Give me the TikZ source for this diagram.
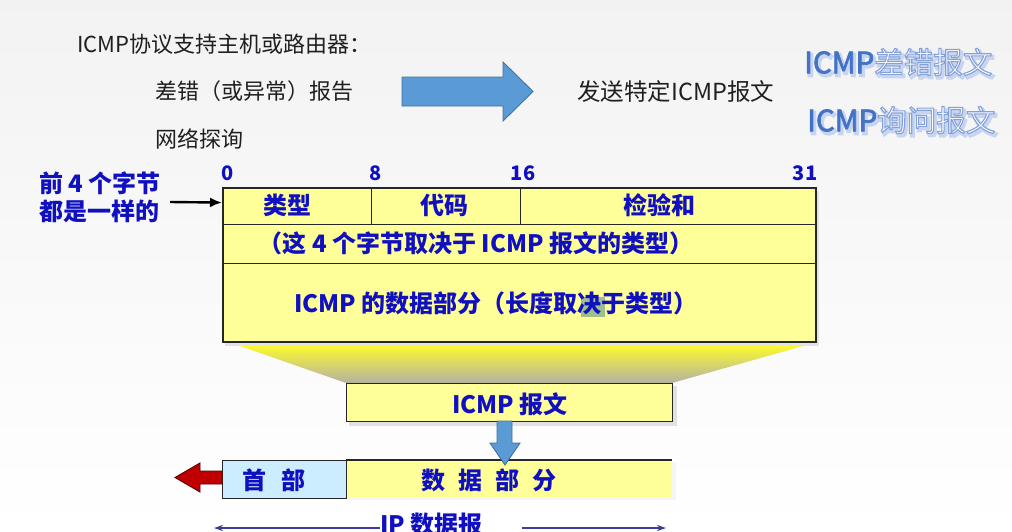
\documentclass[tikz,border=0pt]{standalone}
\usepackage{fontspec}
\setmainfont{Noto Sans CJK SC}
\usetikzlibrary{arrows.meta,calc}

\definecolor{boxyellow}{HTML}{FFFF99}
\definecolor{hdrblue}{HTML}{CCECFF}
\definecolor{labelblue}{HTML}{1010C0}
\definecolor{arrowblue}{HTML}{5B9BD5}
\definecolor{arrowedge}{HTML}{41719C}
\definecolor{arrowred}{HTML}{C00000}
\definecolor{redge}{HTML}{5A0000}
\definecolor{ipline}{HTML}{3C3C9C}
\definecolor{msgblue}{HTML}{4472C4}
\definecolor{shadowblue}{HTML}{C8D5F0}
\definecolor{shadowgray}{HTML}{E2E2E2}
\definecolor{funtop}{HTML}{FAF832}
\definecolor{funbot}{HTML}{B4B2A2}
\definecolor{hilite}{HTML}{9DC08B}

\tikzset{
  plain/.style={inner sep=0pt, anchor=west, text=black!88,
    font=\fontsize{22}{26}\selectfont},
  bluebold/.style={inner sep=0pt, text=labelblue,
    font=\fontsize{24}{28}\selectfont\bfseries},
  num/.style={inner sep=0pt, text=labelblue,
    font=\fontsize{20}{24}\selectfont\bfseries},
  field/.style={draw=black!85, line width=1.1pt, fill=boxyellow,
    inner sep=0pt, anchor=north west},
  gl/.style={inner sep=0pt, anchor=west,
    font=\fontsize{29.5}{33}\selectfont},
  blockarrow/.style={fill=arrowblue, draw=arrowedge, line width=0.9pt,
    line join=miter},
}

% glyphs filled with colour #1 and stroked with width #2 in RGB #3
\newcommand\stroked[4]{\textcolor{#1}{%
  \special{pdf:code 2 Tr #2 w #3 RG}#4\special{pdf:code 0 Tr}}}
\newcommand\kindtext[2]{%
  \stroked{msgblue}{0.7}{0.267 0.447 0.769}{#1}%
  \stroked{white}{1.1}{0.52 0.63 0.85}{#2}}
\newcommand\kindshadow[1]{\stroked{shadowblue}{3}{0.78 0.835 0.94}{#1}}

\begin{document}
\begin{tikzpicture}[x=1pt,y=-1pt]
\useasboundingbox (0,0) rectangle (1012,531);
\shade[top color=black!5, bottom color=white] (0,0) rectangle (1012,531);

% introduction
\node[plain] (intro) at (77,44) {ICMP协议支持主机或路由器：};
\node[plain] (err) at (155,91) {差错（或异常）报告};
\node[plain] (probe) at (155,139) {网络探询};
\node[plain, font=\fontsize{23.5}{27}\selectfont] (send) at (577,92) {发送特定ICMP报文};

% block arrow between the two columns
\filldraw[blockarrow] (402,77) -- (503,77) -- (503,62) -- (533,91.5)
  -- (503,121) -- (503,106) -- (402,106) -- cycle;

% message kinds, each with a soft drop shadow
\node[gl] (kind1s) at (806,64.5) {\kindshadow{ICMP差错报文}};
\node[gl] (kind1) at (804,62) {\kindtext{ICMP}{差错报文}};
\node[gl] (kind2s) at (809,122.5) {\kindshadow{ICMP询问报文}};
\node[gl] (kind2) at (807,120) {\kindtext{ICMP}{询问报文}};

% ICMP message format
\fill[shadowgray] (225,191) rectangle (819,346);
\node[field, minimum width=149, minimum height=37] (type) at (222,187) {};
\node[field, minimum width=149, minimum height=37] (code) at (371,187) {};
\node[field, minimum width=295, minimum height=37] (csum) at (520,187) {};
\node[field, minimum width=593, minimum height=39] (rowtwo) at (222,224) {};
\node[field, minimum width=593, minimum height=78] (rowthree) at (222,263) {};
\node[draw=black!85, line width=1.6pt, inner sep=0pt, anchor=north west,
  minimum width=593, minimum height=154] (frame) at (222,187) {};

\node[num] (b0) at (228,173.5) {0};
\node[num] (b8) at (375.5,173.5) {8};
\node[num] (b16) at (523,173.5) {16};
\node[num] (b31) at (805,173.5) {31};

\node[bluebold] (typel) at (287.5,205) {类型};
\node[bluebold] (codel) at (444.5,205) {代码};
\node[bluebold] (csuml) at (659.5,205) {检验和};
\node[bluebold] (rowtwol) at (476,243) {（这 4 个字节取决于 ICMP 报文的类型）};
\fill[hilite] (581,297) rectangle (605,317);
\node[bluebold] (rowthreel) at (496,303) {ICMP 的数据部分（长度取决于类型）};

\node[bluebold, anchor=west, align=left] (note) at (39,197) {前 4 个字节\\都是一样的};
\draw[-{Latex[length=12pt,width=10pt]}, line width=2.4pt, black]
  ($(note.east)+(9,5)$) -- ($(type.west)+(0,-3.5)$);

% funnel down to the message
\shade[top color=funtop, bottom color=funbot] (240,346) -- (803,346)
  -- (672,383) -- (346,383) -- cycle;

\fill[shadowgray] (349,386) rectangle (677,426);
\node[field, minimum width=326, minimum height=38] (msg) at (346,383) {};
\node[bluebold] (msgl) at (510,404) {ICMP 报文};

% IP datagram
\fill[white!96!black] (349,463) rectangle (676,500);
\node[fill=boxyellow, inner sep=0pt, anchor=north west,
  minimum width=326, minimum height=38] (data) at (346,460) {};
\draw[black!85, line width=1.1pt] (data.north west) -- (data.north east);
\node[field, fill=hdrblue, minimum width=124, minimum height=38] (hdr) at (222,460) {};
\node[bluebold] (hdrl) at (274,480) {首\hspace{0.6em}部};
\node[bluebold] (datal) at (489,480) {数\hspace{0.55em}据\hspace{0.55em}部\hspace{0.55em}分};

% message goes into the data part
\filldraw[blockarrow] (497,421) -- (512,421) -- (512,443) -- (520,443)
  -- (505,465) -- (490,443) -- (497,443) -- cycle;

% header goes out first
\filldraw[fill=arrowred, draw=redge, line width=0.9pt]
  (hdr.west |- 0,471) -- (200,471) -- (200,463) -- (175,477.5)
  -- (200,492) -- (200,484) -- (hdr.west |- 0,484) -- cycle;

% datagram extent
\node[bluebold, anchor=west] (ipl) at (380,524) {IP 数据报};
\coordinate (ipleft) at (214,528);
\coordinate (ipright) at (666,528);
\draw[ipline, line width=2.4pt, {Stealth[length=9pt,width=6pt]}-]
  (ipleft) -- (ipl.west |- ipleft);
\draw[ipline, line width=2.4pt, -{Stealth[length=9pt,width=6pt]}]
  ($(ipl.east |- ipright)+(39,0)$) -- (ipright);
\end{tikzpicture}
\end{document}
